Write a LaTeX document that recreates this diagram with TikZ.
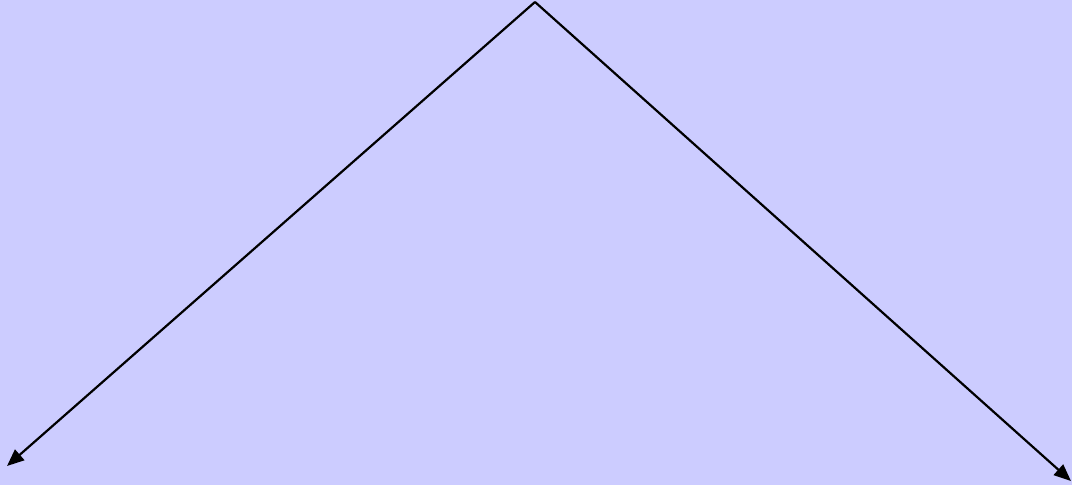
\documentclass[tikz,border=0pt]{standalone}
\usetikzlibrary{arrows.meta}
\definecolor{bg}{HTML}{CCCCFF}
\begin{document}
\begin{tikzpicture}[x=0.5pt,y=-0.5pt,
  conn/.style={draw=black,line width=1.1pt,-{Triangle[length=8.5pt,width=7pt]}}]
\fill[bg] (0,0) rectangle (1072,485);
\useasboundingbox (0,0) rectangle (1072,485);
\coordinate (apex) at (535,2);
\coordinate (left) at (7,466);
\coordinate (right) at (1071,481);
\draw[conn] (apex) -- (left);
\draw[conn] (apex) -- (right);
\end{tikzpicture}
\end{document}
